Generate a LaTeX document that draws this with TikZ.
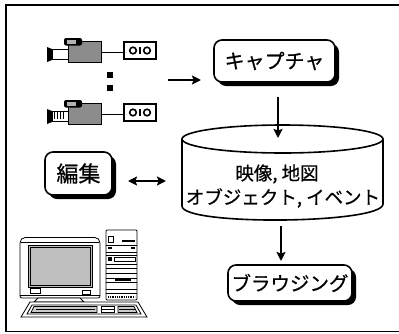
\documentclass[tikz,border=0pt]{standalone}
\usepackage{fontspec}
\newfontfamily\jp[FakeBold=0.6]{Noto Sans CJK JP}
\usetikzlibrary{arrows.meta,shadows}

\tikzset{
  % one camcorder wired to its cassette; origin = top-left of the unit
  camunit/.pic={
    \fill (0,9) -- (5,11) -- (5,22) -- (0,24) -- cycle;
    \draw[line width=0.9pt,fill=white] (5,11) rectangle (21,21);
    \draw[line width=1pt,fill=black!45] (21,3) rectangle (54,24);
    \fill[rounded corners=2pt] (17,0) rectangle (35,7.5);
    \fill[black!30] (19.5,2) rectangle (29,5.5);
    \draw[line width=1pt] (54,14) -- (77,14);
    \draw[line width=2pt,fill=white] (77,4) rectangle (109,21);
    \draw[line width=1.6pt] (86,12.5) circle[radius=3.3] (100,12.5) circle[radius=3.3];
    \draw[line width=1.2pt] (93,9) -- (93,16);
  }
}

\begin{document}
\begin{tikzpicture}[x=1pt,y=-1pt,
  >={Stealth[length=9pt,width=9pt,inset=1.5pt]},
  conn/.style={line width=1.8pt},
  procbox/.style={draw,line width=1.6pt,rounded corners=8pt,fill=white,inner sep=0pt,
    drop shadow={shadow xshift=4pt,shadow yshift=-4pt,fill=black,opacity=1},
    font=\jp\fontsize{20}{20}\selectfont},
  dbtext/.style={font=\jp\fontsize{18.5}{18.5}\selectfont,inner sep=0pt},
  frameline/.style={line width=1.3pt},
  pcline/.style={line width=0.8pt},
]
\useasboundingbox (0,0) rectangle (399,333);

% outer frame (open to the right)
\draw[frameline] (399,5) -- (6,5) -- (6,331.5) -- (399,331.5);

% ---- video sources ----
\pic at (47,38) {camunit};
\pic at (47,100) {camunit};
\foreach \xx in {54.5,57.5,60.5,63.5}
  \draw[line width=0.8pt] (\xx,111) -- (\xx,119);
\fill (107,72) rectangle (113,78);
\fill (107,85) rectangle (113,91);

% ---- process boxes ----
\node[procbox,minimum width=121pt,minimum height=42pt] (cap) at (274.5,61) {キャプチャ};
\node[procbox,minimum width=67pt,minimum height=43pt,font=\jp\fontsize{22}{22}\selectfont] (edit) at (78.5,173.5) {編集};
\node[procbox,minimum width=124pt,minimum height=36pt,font=\jp\fontsize{19.5}{19.5}\selectfont] (browse) at (290,283) {ブラウジング};

% ---- database cylinder ----
\draw[line width=1.6pt,fill=white] (182,139) -- (182,206)
  .. controls (182,226) and (383,224) .. (383,204) -- (383,139);
\draw[line width=1.6pt] (282.5,139) ellipse[x radius=100.5,y radius=14];
\node[dbtext] (db1) at (277,174) {映像, 地図};
\node[dbtext] (db2) at (283,198) {オブジェクト, イベント};

% ---- connector end points ----
\coordinate (camout) at (168,80);
\coordinate (capin)  at (201,80);
\coordinate (capout) at (278,97);
\coordinate (dbin)   at (278,138);
\coordinate (editR)  at (128,181);
\coordinate (dbL)    at (166,181);
\coordinate (dbout)  at (281,226);
\coordinate (brin)   at (281,261);

\draw[conn,->] (camout) -- (capin);
\draw[conn,->] (capout) -- (dbin);
\draw[conn,<->] (editR) -- (dbL);
\draw[conn,->] (dbout) -- (brin);

% ---- workstation ----
% monitor
\draw[pcline,fill=white,rounded corners=2pt] (20,241) -- (23,237.5) -- (97,237.5) -- (100,241) -- (100,298) -- (20,298) -- cycle;
\draw[pcline] (21,242) -- (99,242);
\draw[pcline,fill=black!25] (28,245) rectangle (92,287);
\draw[line width=0.5pt] (30,247) rectangle (90,285);
\draw[pcline] (30,288) rectangle (40,293);
\draw[pcline] (82,290) rectangle (90,294);
\draw[pcline] (20,295) -- (100,295);
\draw[pcline,fill=white] (38,298) -- (34,302) -- (84,302) -- (80,298) -- cycle;
% tower
\draw[pcline,fill=white,rounded corners=1pt] (106,230) rectangle (137,300);
\draw[pcline] (108,236) rectangle (113,242);
\draw[line width=1.6pt] (122,241) -- (135,241);
\draw[pcline] (106,245.5) -- (137,245.5) (106,252) -- (137,252);
\draw[line width=1.4pt] (108,248) -- (112,248) (131,248) -- (135,248);
\draw[pcline] (106,255) -- (137,255) (106,264) -- (137,264);
\fill (108,257) rectangle (111.5,260.5);
\draw[pcline] (114,257.5) rectangle (135,261.5);
\draw[pcline] (106,268) -- (137,268) (106,273) -- (137,273);
\draw[pcline] (106,278) -- (137,278) (106,282) -- (137,282);
\draw[line width=1.4pt] (115,280) -- (131,280);
\draw[pcline] (106,289) -- (137,289) (106,293) -- (137,293);
\draw[line width=1.2pt,dash pattern=on 1pt off 0.8pt] (108,297) -- (135,297);
% keyboard
\draw[pcline,fill=white] (30,302) -- (138,302) -- (147,317) -- (21,317) -- cycle;
\draw[pcline] (32,305) -- (136,305) -- (141,314) -- (27,314) -- cycle;
\draw[pcline,fill=black!20] (34,306.5) -- (97,306.5) -- (97,312.5) -- (31,312.5) -- cycle;
\draw[line width=1.3pt] (36,309.5) -- (95,309.5);
\draw[pcline] (101,306.5) rectangle (114,312.5);
\draw[pcline] (101,309.5) -- (114,309.5);
\draw[pcline,fill=black!20] (118,306.5) -- (134,306.5) -- (137,312.5) -- (118,312.5) -- cycle;
\draw[line width=1.3pt] (119,309.5) -- (135,309.5);
\end{tikzpicture}
\end{document}
